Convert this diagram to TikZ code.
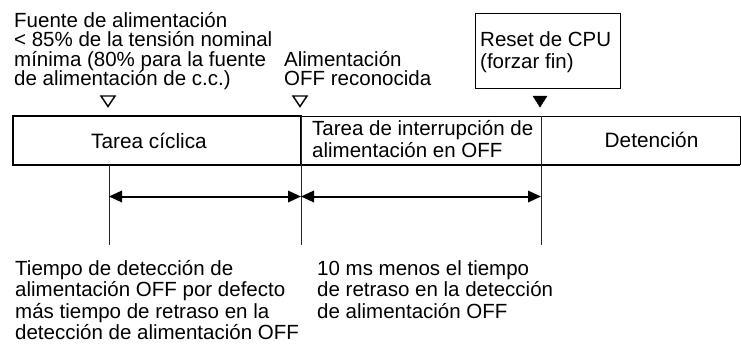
\documentclass[tikz,border=0pt]{standalone}
\usepackage{fontspec}
\setmainfont{Liberation Sans}
\usetikzlibrary{arrows.meta}
\begin{document}
\begin{tikzpicture}[x=1pt,y=-1pt,
  lbl/.style={anchor=base west, inner sep=0pt, align=left, font=\fontsize{20.5}{19.5}\selectfont},
  lblb/.style={anchor=base west, inner sep=0pt, align=left, font=\fontsize{20.5}{21.5}\selectfont},
  ctr/.style={anchor=base, inner sep=0pt, font=\fontsize{20.8}{21.5}\selectfont},
  hollowtri/.style={draw=black, line width=1.4pt, fill=white, line join=miter},
  solidtri/.style={draw=black, fill=black, line width=0.5pt},
  vline/.style={draw=black!85, line width=1pt},
  span/.style={line width=2pt, {Triangle[length=13pt,width=11.5pt]}-{Triangle[length=13pt,width=11.5pt]}}
]
\useasboundingbox (0,0) rectangle (741,348);

% top labels (base anchor = baseline of last line)
\node[lbl] (fuente) at (14,85.5) {Fuente de alimentación\\< 85\% de la tensión nominal\\mínima (80\% para la fuente\\de alimentación de c.c.)};
\node[lbl] (offrec) at (284,85.5) {Alimentación\\OFF reconocida};
\node[draw=black, line width=0.9pt, minimum width=145pt, minimum height=75pt, anchor=north west, inner sep=0pt] (reset) at (475,12.5) {};
\node[lblb] (resettxt) at (480,68) {Reset de CPU\\(forzar fin)};

% markers
\draw[hollowtri] (101,96) -- (115,96) -- (108,106.5) -- cycle;
\draw[hollowtri] (293,96) -- (307,96) -- (300,106.5) -- cycle;
\draw[solidtri] (533,96) -- (547,96) -- (540,107) -- cycle;

% coordinates
\coordinate (bTL) at (301,116);
\coordinate (bTR) at (740,116);
\coordinate (bBL) at (301,165);
\coordinate (bBR) at (740,165);
\coordinate (v1t) at (109,165);
\coordinate (v1b) at (109,245);
\coordinate (v2t) at (301,116);
\coordinate (v2b) at (301,245);
\coordinate (v3t) at (541,116);
\coordinate (v3b) at (541,245);
\coordinate (a1) at (109,196.5);
\coordinate (a2) at (301,196.5);
\coordinate (a3) at (541,196.5);

% task bar
\draw[line width=0.9pt] (bTL) -- (bTR);
\draw[line width=1.5pt] (bBL) -- (bBR);
\draw[line width=1pt] (bTR) -- (bBR);
\draw[line width=1.8pt] (13,116) rectangle (301,165);
\draw[vline] (v1t) -- (v1b);
\draw[vline] (v2t) -- (v2b);
\draw[vline] (v3t) -- (v3b);

\node[ctr] (ciclica) at (149,148) {Tarea cíclica};
\node[lblb] (interr) at (312,157) {Tarea de interrupción de\\alimentación en OFF};
\node[ctr] (deten) at (651.5,147) {Detención};

% spans
\draw[span] (a1) -- (a2);
\draw[span] (a2) -- (a3);

% bottom labels
\node[lblb] (t1) at (15,339.5) {Tiempo de detección de\\alimentación OFF por defecto\\más tiempo de retraso en la\\detección de alimentación OFF};
\node[lblb] (t2) at (317,318) {10 ms menos el tiempo\\de retraso en la detección\\de alimentación OFF};
\end{tikzpicture}
\end{document}
